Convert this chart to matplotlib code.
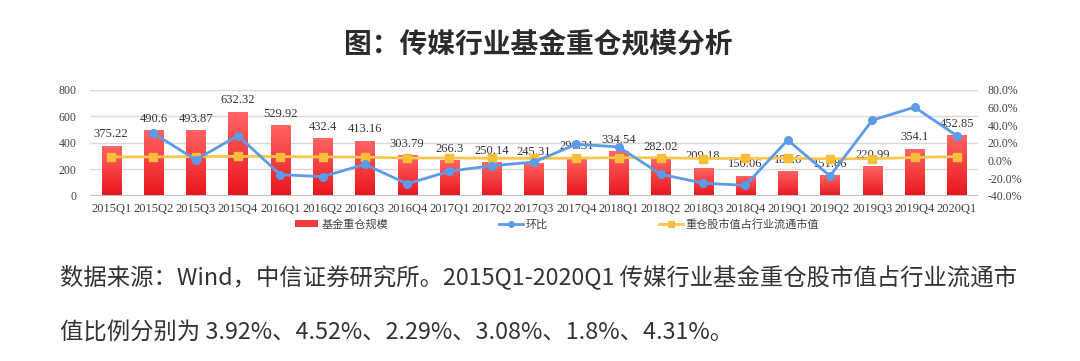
import numpy as np
import matplotlib
matplotlib.use("Agg")
import matplotlib.pyplot as plt
from matplotlib.colors import LinearSegmentedColormap
from matplotlib.lines import Line2D
from matplotlib.patches import Patch

quarters = ["2015Q1", "2015Q2", "2015Q3", "2015Q4", "2016Q1", "2016Q2", "2016Q3",
            "2016Q4", "2017Q1", "2017Q2", "2017Q3", "2017Q4", "2018Q1", "2018Q2",
            "2018Q3", "2018Q4", "2019Q1", "2019Q2", "2019Q3", "2019Q4", "2020Q1"]
scale = [375.22, 490.6, 493.87, 632.32, 529.92, 432.4, 413.16, 303.79, 266.3, 250.14,
         245.31, 290.31, 334.54, 282.02, 209.18, 150.06, 184.6, 151.86, 220.99, 354.1, 452.85]
qoq = [None, 30.7, 0.7, 28.0, -16.2, -18.4, -4.5, -26.5, -12.3, -6.1, -1.9,
       18.3, 15.2, -15.7, -25.8, -28.3, 23.0, -17.7, 45.5, 60.2, 27.9]
share = [3.92, 3.9, 4.3, 4.52, 4.3, 3.9, 3.6, 2.6, 2.7, 2.5, 2.29,
         2.6, 3.08, 3.0, 2.1, 2.3, 2.5, 1.8, 1.9, 3.3, 4.31]

title = "图：传媒行业基金重仓规模分析"
caption1 = "数据来源：Wind，中信证券研究所。2015Q1-2020Q1 传媒行业基金重仓股市值占行业流通市"
caption2 = "值比例分别为 3.92%、4.52%、2.29%、3.08%、1.8%、4.31%。"

serif = "Liberation Serif"
cjk = ["Noto Sans CJK SC", "DejaVu Sans"]
plt.rcParams["font.family"] = cjk

fig = plt.figure(figsize=(10.8, 3.61), dpi=100)
ax = fig.add_axes([90 / 1080, 1 - 195.7 / 361, 888 / 1080, 106 / 361])
x = np.arange(len(quarters))

bars = ax.bar(x, scale, width=0.45, color="none", zorder=2)
cmap = LinearSegmentedColormap.from_list("red", ["#E8161C", "#FF6464"])
grad = np.linspace(0, 1, 100).reshape(-1, 1)
for r in bars:
    x0, w, h = r.get_x(), r.get_width(), r.get_height()
    ax.imshow(grad, extent=[x0, x0 + w, 0, h], origin="lower", cmap=cmap,
              aspect="auto", zorder=2)
for xi, v in zip(x, scale):
    ax.annotate(str(v), (xi, v), xytext=(0, 4), textcoords="offset points",
                ha="center", va="bottom", fontsize=9, family=serif,
                color="#333333", zorder=5)

ax.set_xlim(-0.5, len(quarters) - 0.5)
ax.set_ylim(0, 800)
ax.set_yticks(range(0, 801, 200))
ax.set_xticks(x)
ax.set_xticklabels(quarters, family=serif, fontsize=9, color="#404040")
for lb in ax.get_yticklabels():
    lb.set_family(serif)
    lb.set_fontsize(8.5)
    lb.set_color("#404040")
ax.tick_params(length=0)
ax.tick_params(axis="y", pad=9.5)
ax.tick_params(axis="x", pad=5)
ax.grid(axis="y", color="#D9D9D9", lw=1, zorder=0)
ax.set_axisbelow(True)
for s in ax.spines.values():
    s.set_visible(False)
ax.axhline(0, color="#BFBFBF", lw=1.5, zorder=3)

ax2 = ax.twinx()
qx = [xi for xi, v in zip(x, qoq) if v is not None]
qv = [v for v in qoq if v is not None]
ax2.plot(qx, qv, color="#5B9BE8", lw=2, marker="o", ms=5.5, zorder=4)
ax2.plot(x, share, color="#FFC54D", lw=2, marker="s", ms=5.5,
         markerfacecolor="#F8BE3A", markeredgecolor="#F8BE3A", zorder=3)
ax2.set_ylim(-40, 80)
ax2.set_yticks(range(-40, 81, 20))
ax2.set_yticklabels([f"{t:.1f}%" for t in range(-40, 81, 20)], family=serif,
                    fontsize=8.5, color="#404040")
ax2.tick_params(length=0, pad=7)
for s in ax2.spines.values():
    s.set_visible(False)

handles = [Patch(facecolor="#F23A3F", edgecolor="none"),
           Line2D([], [], color="#5B9BE8", lw=2, marker="o", ms=4),
           Line2D([], [], color="#FFC54D", lw=2, marker="s", ms=4,
                  markerfacecolor="#F8BE3A", markeredgecolor="#F8BE3A")]
labels = ["基金重仓规模", "环比", "重仓股市值占行业流通市值"]
fig.legend(handles, labels, loc="center", bbox_to_anchor=(557 / 1080, 1 - 224 / 361),
           ncol=3, frameon=False, fontsize=8, handlelength=2.1, handleheight=0.6,
           handletextpad=0.3, columnspacing=10.0, labelcolor="#404040")

fig.text(538 / 1080, 1 - 44 / 361, title, ha="center", va="center", fontsize=20,
         fontweight="bold", color="#2B2B2B")
fig.text(60 / 1080, 1 - 277 / 361, caption1, ha="left", va="center", fontsize=16.8,
         color="#333333")
fig.text(60 / 1080, 1 - 333 / 361, caption2, ha="left", va="center", fontsize=16.8,
         color="#333333")

fig.savefig("out.png", dpi=100, facecolor="white")
